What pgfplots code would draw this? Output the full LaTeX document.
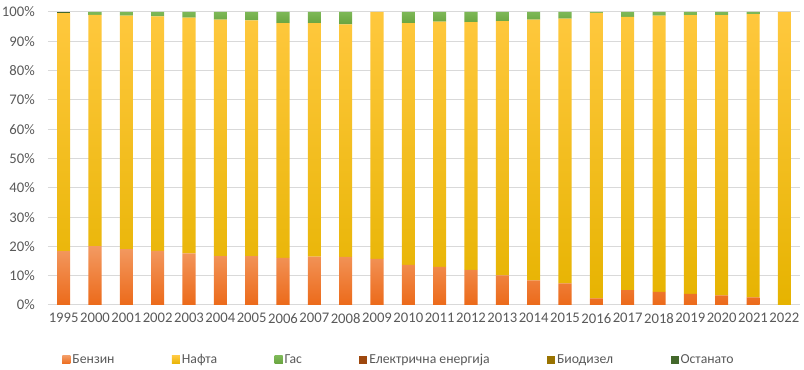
\documentclass[border=0pt]{standalone}
\usepackage{pgfplots}
\usepackage{pgfplotstable}
\pgfplotsset{compat=1.18}
\usepackage{fontspec}
\setmainfont{Carlito}
\definecolor{textgray}{HTML}{595959}
\definecolor{gridgray}{HTML}{D9D9D9}
\definecolor{benzT}{HTML}{F39A62}
\definecolor{benzB}{HTML}{EC6A1A}
\definecolor{naftT}{HTML}{FFC83E}
\definecolor{naftB}{HTML}{E6B300}
\definecolor{gasT}{HTML}{7DB857}
\definecolor{gasB}{HTML}{68A33E}
\definecolor{benzL}{HTML}{ED7D31}
\definecolor{naftL}{HTML}{FFC000}
\definecolor{gasL}{HTML}{70AD47}
\definecolor{elec}{HTML}{9E480E}
\definecolor{bio}{HTML}{997300}
\definecolor{ost}{HTML}{43682B}

\pgfplotstableread{
x year benz nafta gas elec bio ost
0  1995 18.4 81.2 0.0 0 0 0.4
1  2000 20.1 78.9 1.0 0 0 0
2  2001 19.1 79.7 1.2 0 0 0
3  2002 18.5 80.0 1.5 0 0 0
4  2003 17.6 80.5 1.9 0 0 0
5  2004 16.7 80.7 2.6 0 0 0
6  2005 16.7 80.4 2.9 0 0 0
7  2006 16.1 80.1 3.8 0 0 0
8  2007 16.5 79.7 3.8 0 0 0
9  2008 16.4 79.4 4.2 0 0 0
10 2009 15.7 84.3 0.0 0 0 0
11 2010 13.7 82.5 3.8 0 0 0
12 2011 13.0 83.7 3.3 0 0 0
13 2012 12.0 84.5 3.5 0 0 0
14 2013 10.1 86.8 3.1 0 0 0
15 2014 8.4  89.0 2.6 0 0 0
16 2015 7.4  90.3 2.3 0 0 0
17 2016 2.3  97.4 0.3 0 0 0
18 2017 5.1  93.2 1.7 0 0 0
19 2018 4.5  94.3 1.2 0 0 0
20 2019 3.8  95.1 1.1 0 0 0
21 2020 3.3  95.6 1.1 0 0 0
22 2021 2.6  96.7 0.7 0 0 0
23 2022 0.0  100.0 0.0 0 0 0
}\data

\begin{document}
\begin{tikzpicture}
\path[use as bounding box] (-36pt,-48.75pt) rectangle (567pt,228.75pt);
\begin{axis}[
  at={(0,0)}, anchor=south west,
  scale only axis, width=564pt, height=219.75pt,
  ybar stacked, bar width=0.415,
  xmin=-0.5, xmax=23.5, ymin=0, ymax=100,
  xtick={0,...,23},
  xticklabels={1995,2000,2001,2002,2003,2004,2005,2006,2007,2008,2009,2010,2011,2012,2013,2014,2015,2016,2017,2018,2019,2020,2021,2022},
  ytick={0,10,...,100},
  yticklabels={0\%,10\%,20\%,30\%,40\%,50\%,60\%,70\%,80\%,90\%,100\%},
  ymajorgrids, grid style={draw=gridgray, line width=0.75pt},
  axis line style={draw=none},
  major tick length=0pt,
  tick label style={font=\fontsize{11}{13}\selectfont, text=textgray},
  yticklabel style={inner xsep=0pt, xshift=-9.75pt},
  xticklabel style={inner ysep=0pt, yshift=-6pt},
  legend columns=6,
  legend style={at={(0.4668,-0.1877)}, anchor=center, draw=none, fill=none,
    font=\fontsize{10.3}{12}\selectfont, text=textgray,
    nodes={inner xsep=1.5pt},
    /tikz/every even column/.append style={column sep=41.5pt}},
]
\addplot[draw=none, top color=benzT, bottom color=benzB, legend image code/.code={\fill[benzL] (0pt,-3pt) rectangle (6pt,3pt);}] table[x=x,y=benz]{\data};
\addlegendentry{Бензин}
\addplot[draw=none, top color=naftT, bottom color=naftB, legend image code/.code={\fill[naftL] (0pt,-3pt) rectangle (6pt,3pt);}] table[x=x,y=nafta]{\data};
\addlegendentry{Нафта}
\addplot[draw=none, top color=gasT, bottom color=gasB, legend image code/.code={\fill[gasL] (0pt,-3pt) rectangle (6pt,3pt);}] table[x=x,y=gas]{\data};
\addlegendentry{Гас}
\addplot[draw=none, fill=elec, legend image code/.code={\fill[elec] (0pt,-3pt) rectangle (6pt,3pt);}] table[x=x,y=elec]{\data};
\addlegendentry{Електрична енергија}
\addplot[draw=none, fill=bio, legend image code/.code={\fill[bio] (0pt,-3pt) rectangle (6pt,3pt);}] table[x=x,y=bio]{\data};
\addlegendentry{Биодизел}
\addplot[draw=none, fill=ost, legend image code/.code={\fill[ost] (0pt,-3pt) rectangle (6pt,3pt);}] table[x=x,y=ost]{\data};
\addlegendentry{Останато}
\end{axis}
\end{tikzpicture}
\end{document}
